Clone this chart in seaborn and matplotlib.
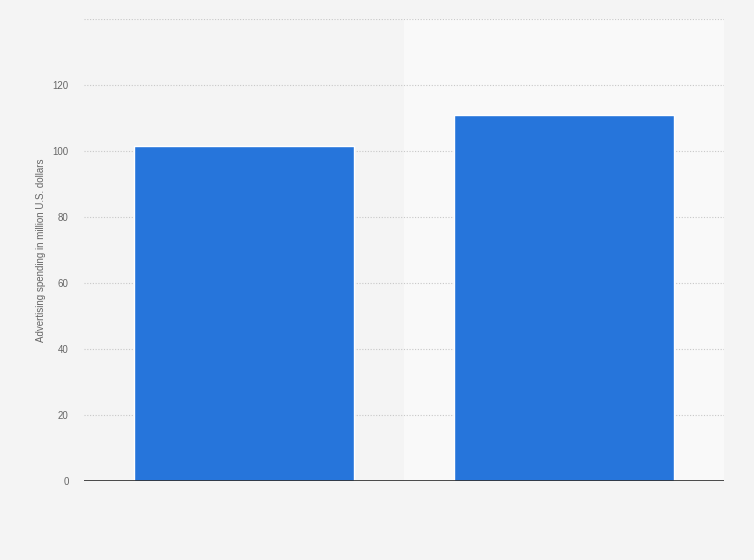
import pandas as pd
import seaborn as sns
import matplotlib.pyplot as plt

# Werte
categories = ['2019', '2020']
spending = [101.5, 111.0]
y_ticks = [0, 20, 40, 60, 80, 100, 120]

data = pd.DataFrame({'year': categories, 'value': spending})

sns.set_style('white')
plt.rcParams['font.family'] = ['Liberation Sans', 'DejaVu Sans']

fig = plt.figure(figsize=(7.54, 5.6), dpi=100, facecolor='#f4f4f4')
ax = fig.add_axes([84 / 754, 1 - 481 / 560, 640 / 754, 462 / 560])
ax.set_facecolor('#f4f4f4')

# hellere rechte Hälfte
ax.axvspan(0.5, 1.5, color='#f9f9f9', zorder=0)

sns.barplot(x='year', y='value', data=data, color='#2675db', width=0.685,
            saturation=1, ax=ax, zorder=3)

ax.set_xlim(-0.5, 1.5)
ax.set_ylim(0, 140)
ax.set_yticks(y_ticks)
for y in y_ticks[1:] + [140]:
    ax.axhline(y, color='#c8c8c8', lw=0.8, ls=(0, (1, 1.5)), zorder=1)
ax.axhline(0, color='#2b2b2b', lw=1.2, zorder=4)

ax.set_xticks([0, 1])
ax.set_xticklabels(['', ''])
ax.tick_params(axis='both', length=0, labelsize=7, colors='#666666', pad=11)
ax.set_xlabel('')
ax.set_ylabel('Advertising spending in million U.S. dollars', fontsize=7,
              color='#666666', labelpad=5)
sns.despine(ax=ax, left=True, bottom=True, top=True, right=True)

plt.savefig('out.png', dpi=100, facecolor=fig.get_facecolor())
